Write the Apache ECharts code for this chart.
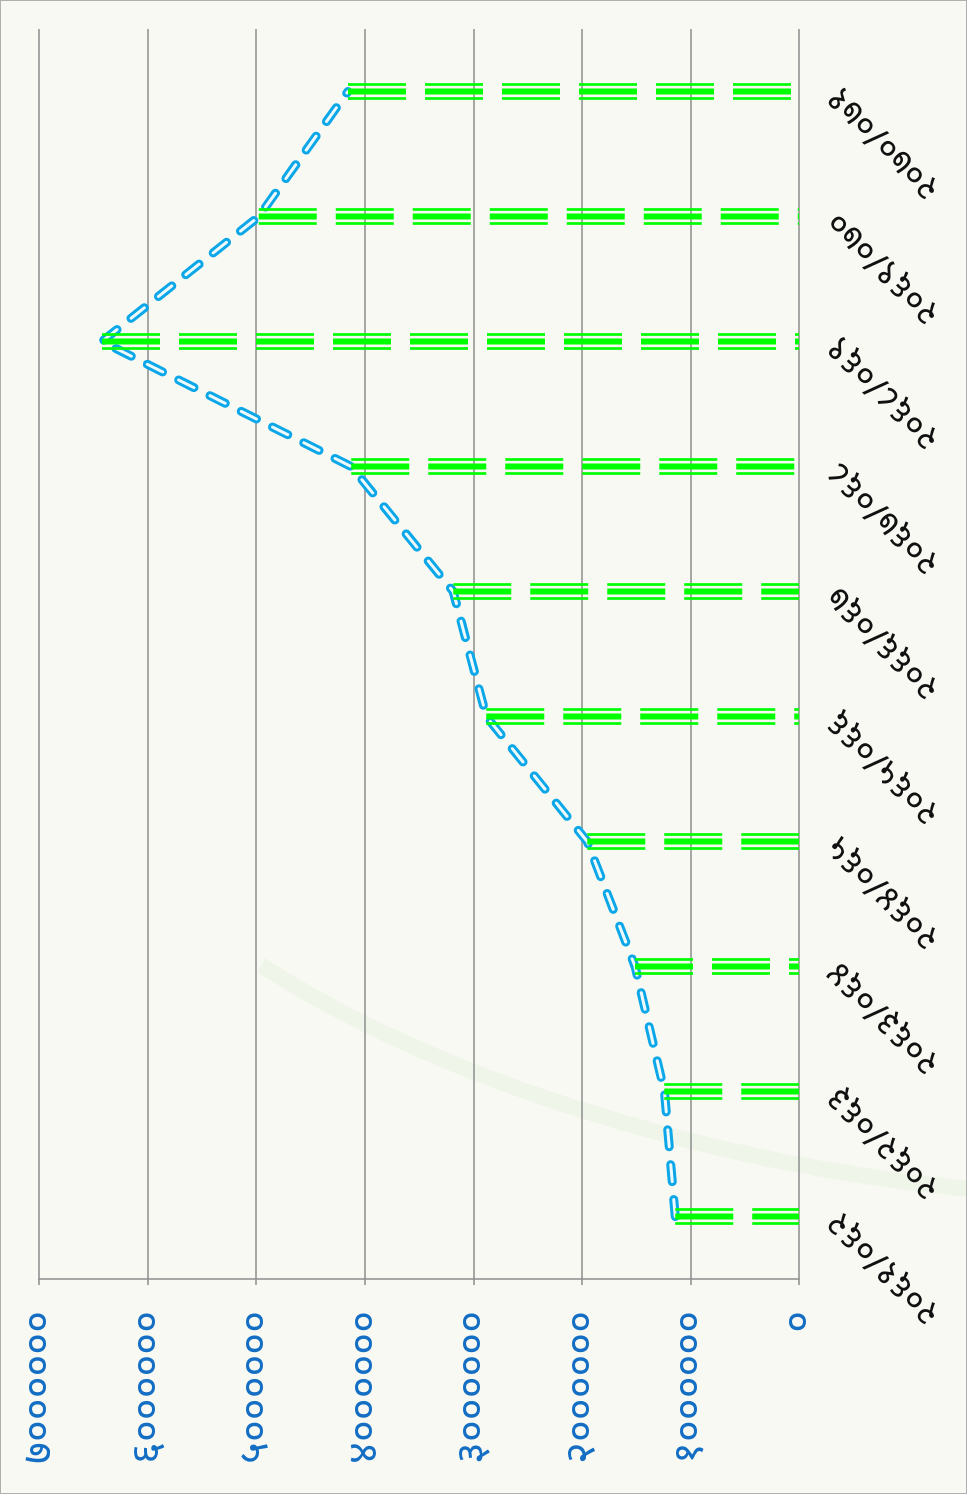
<!DOCTYPE html>
<html>
<head>
<meta charset="utf-8">
<script src="https://cdn.jsdelivr.net/npm/echarts@6/dist/echarts.min.js"></script>
<style>
html, body { margin: 0; padding: 0; background: #f7f9f2; }
#wrap { position: absolute; left: 0; top: 0; width: 967px; height: 1494px; overflow: hidden; box-sizing: border-box; border: 1px solid #b0b0b0; }
/* chart is laid out landscape and turned a quarter to the left */
#chart { position: absolute; left: 0; top: 1494px; width: 1494px; height: 967px; transform-origin: 0 0; transform: rotate(-90deg); }
</style>
</head>
<body>
<div id="wrap"><div id="chart"></div></div>
<script>
// आर्थिक वर्ष
var categories = ['२०६१/०६२', '२०६२/०६३', '२०६३/०६४', '२०६४/०६५', '२०६५/०६६',
                  '२०६६/०६७', '२०६७/०६८', '२०६८/०६९', '२०६९/०७०', '२०७०/०७१'];
var values = [1140000, 1240000, 1510000, 1950000, 2880000,
              3185000, 4125000, 6420000, 4975000, 4155000];
var tickLabels = ['०', '१००००००', '२००००००', '३००००००', '४००००००',
                  '५००००००', '६००००००', '७००००००'];

var myChart = echarts.init(document.getElementById('chart'));

var option = {
    backgroundColor: '#f7f9f2',
    animation: false,
    // faint swoosh in the backdrop
    graphic: [{
        type: 'bezierCurve',
        silent: true,
        z: -10,
        shape: { x1: 530, y1: 260, cpx1: 420, cpy1: 430, cpx2: 330, cpy2: 700, x2: 305, y2: 980 },
        style: { stroke: 'rgba(214,232,200,0.22)', lineWidth: 16, fill: null }
    }],
    grid: { left: 216, right: 28, top: 38, bottom: 169, containLabel: false },
    xAxis: {
        type: 'category',
        data: categories,
        boundaryGap: true,
        axisLine: { show: false },
        axisTick: { show: false },
        axisLabel: {
            rotate: 45,
            margin: 34,
            color: '#111',
            fontSize: 36,
            fontFamily: 'Noto Sans, sans-serif'
        }
    },
    yAxis: {
        type: 'value',
        min: 0,
        max: 7000000,
        interval: 1000000,
        axisLine: { show: true, lineStyle: { color: '#8c8c8c', width: 1.5 } },
        axisTick: { show: true, length: 6, lineStyle: { color: '#8c8c8c', width: 1.5 } },
        splitLine: { lineStyle: { color: '#8c8c8c', width: 1.5 } },
        axisLabel: {
            margin: 32,
            color: '#136ec4',
            fontSize: 42,
            fontFamily: 'Noto Sans, sans-serif',
            formatter: function(v){
                return tickLabels[Math.round(v / 1000000)];
            }
        }
    },
    series: [
        {
            // outer blue stroke
            type: 'line',
            data: values,
            showSymbol: false,
            symbol: 'none',
            lineStyle: { color: '#0ca7e8', width: 9, type: [17, 18], cap: 'round' },
            z: 2
        },
        {
            // light core of the dashes
            type: 'line',
            data: values,
            showSymbol: false,
            symbol: 'none',
            lineStyle: { color: '#eef9fc', width: 3, type: [17, 18], cap: 'round' },
            z: 3
        },
        {
            type: 'custom',
            data: values.map(function(v, i){ return [i, v]; }),
            z: 4,
            renderItem: function(params, api){
                var top = api.coord([api.value(0), api.value(1)]);
                var base = api.coord([api.value(0), 0]);
                var strokes = [[-7, 2.7], [0, 6], [7, 2.7]];
                return {
                    type: 'group',
                    children: strokes.map(function(s){
                        return {
                            type: 'line',
                            shape: { x1: top[0] + s[0], y1: top[1], x2: base[0] + s[0], y2: base[1] },
                            style: { stroke: '#00ff00', lineWidth: s[1], lineDash: [58, 19], lineCap: 'butt' }
                        };
                    })
                };
            }
        }
    ]
};

myChart.setOption(option);
</script>
</body>
</html>
